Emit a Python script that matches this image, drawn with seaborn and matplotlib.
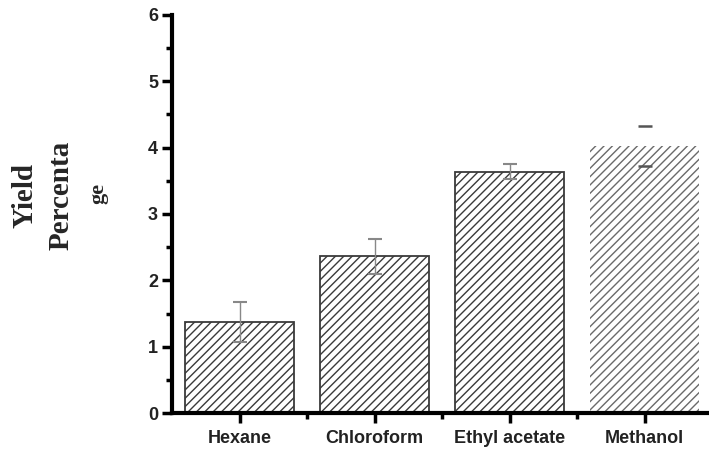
import matplotlib
matplotlib.use("Agg")
import matplotlib.pyplot as plt
import seaborn as sns
from matplotlib.ticker import MultipleLocator

solvents = ["Hexane", "Chloroform", "Ethyl acetate", "Methanol"]
yields = [1.37, 2.36, 3.64, 4.02]
errors = [0.30, 0.26, 0.11, 0.30]

sns.set_style("white")
plt.rcParams["font.family"] = ["Liberation Sans", "DejaVu Sans"]
plt.rcParams["hatch.linewidth"] = 1.0

fig = plt.figure(figsize=(7.09, 4.54), dpi=100)
ax = fig.add_axes([172 / 709, 41 / 454, 540 / 709, 398 / 454])

sns.barplot(x=solvents, y=yields, ax=ax, color="white", width=0.81,
            edgecolor="#444444", linewidth=1.3, errorbar=None)

for i, bar in enumerate(ax.patches):
    bar.set_hatch("////")
    bar.set_facecolor("white")
    if i == len(ax.patches) - 1:
        bar.set_edgecolor("#6a6a6a")
        bar.set_linewidth(0)
    else:
        bar.set_edgecolor("#3a3a3a")

pos = list(range(len(solvents)))
# first three with a visible stem, methanol only shows its caps
ax.errorbar(pos[:3], yields[:3], yerr=errors[:3], fmt="none",
            ecolor="#888888", elinewidth=1.0, capsize=5, capthick=1.5)
ax.errorbar(pos[3:], yields[3:], yerr=errors[3:], fmt="none",
            ecolor="#555555", elinewidth=0, capsize=5, capthick=1.8)

ax.set_xlim(-0.5, 3.5)
ax.set_ylim(0, 6)
ax.yaxis.set_major_locator(MultipleLocator(1))
ax.yaxis.set_minor_locator(MultipleLocator(0.5))
ax.set_xticks(pos)
ax.set_xticks([0.5, 1.5, 2.5], minor=True)

for side in ["top", "right"]:
    ax.spines[side].set_visible(False)
for side in ["left", "bottom"]:
    ax.spines[side].set_linewidth(3)
    ax.spines[side].set_color("black")

ax.tick_params(axis="both", which="major", direction="out", length=7, width=2.5,
               color="black", labelsize=13, pad=3)
ax.tick_params(axis="both", which="minor", direction="out", length=4, width=2.5,
               color="black")
ax.tick_params(axis="x", which="major", labelsize=13, pad=5)
ax.tick_params(left=True, bottom=True, which="both")
for lbl in ax.get_xticklabels() + ax.get_yticklabels():
    lbl.set_fontweight("bold")
    lbl.set_color("#222222")
ax.set_xlabel("")
ax.set_ylabel("")

serif = ["Liberation Serif", "DejaVu Serif"]
fig.text(25 / 709, 1 - 195 / 454, "Yield", rotation=90, ha="center", va="center",
         fontsize=21, fontweight="bold", family=serif)
fig.text(61 / 709, 1 - 195 / 454, "Percenta", rotation=90, ha="center", va="center",
         fontsize=21, fontweight="bold", family=serif)
fig.text(98 / 709, 1 - 193 / 454, "ge", rotation=90, ha="center", va="center",
         fontsize=16, fontweight="bold", family=serif)

fig.savefig("out.png", dpi=100)
